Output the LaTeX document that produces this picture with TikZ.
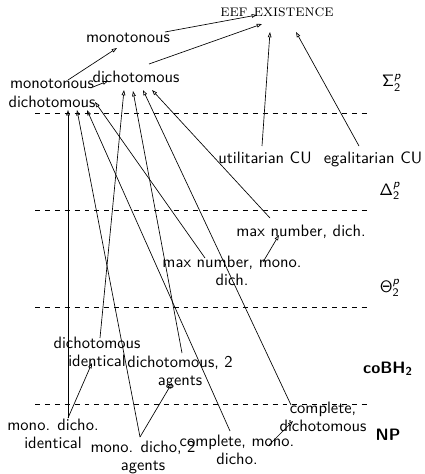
\documentclass[tikz,border=0pt]{standalone}
\usepackage{amsmath}
\usetikzlibrary{arrows.meta}
% slanted sans letters for the class superscripts
\DeclareMathAlphabet{\mathsfsl}{OT1}{cmss}{m}{sl}
% two centred lines whose baseline is the first line
\newcommand{\twoline}[2]{\begin{tabular}[t]{@{}c@{}}#1\\#2\end{tabular}}
\renewcommand{\arraystretch}{0.92}

\begin{document}
\begin{tikzpicture}[x=0.606pt,y=-0.606pt,
  lbl/.style={anchor=base,inner sep=0pt,font=\sffamily},
  cls/.style={anchor=base,inner sep=0pt,font=\sffamily},
  arr/.style={-{Triangle[open,length=3.2pt,width=2.2pt]},line width=0.4pt},
  level/.style={dashed,line width=0.4pt}]
\useasboundingbox (0,0) rectangle (424,474);

% separators between the complexity classes
\draw[level] (35,113) -- (371,113);
\draw[level] (35,210) -- (371,210);
\draw[level] (35,307) -- (371,307);
\draw[level] (35,404) -- (371,404);

% class names
\node[cls] (sigma) at (392,87) {$\mathsf{\Sigma}^{\mathsfsl{p}}_{\mathsf{2}}$};
\node[cls] (delta) at (390,195) {$\mathsf{\Delta}^{\mathsfsl{p}}_{\mathsf{2}}$};
\node[cls] (theta) at (390,292) {$\mathsf{\Theta}^{\mathsfsl{p}}_{\mathsf{2}}$};
\node[cls] (cobh) at (388,373) {\bfseries coBH\textsubscript{2}};
\node[cls] (np) at (388,440) {\bfseries NP};

% problem variants
\node[lbl] (eef) at (277,17) {\rmfamily\textsc{eef existence}};
\node[lbl] (mono) at (128,43) {monotonous};
\node[lbl] (dich) at (136,83) {dichotomous};
\node[lbl] (md) at (52,89) {\twoline{monotonous}{dichotomous}};
\node[lbl] (util) at (265,163) {utilitarian CU};
\node[lbl] (egal) at (373,163) {egalitarian CU};
\node[lbl] (mnd) at (301,236) {max number, dich.};
\node[lbl] (mnm) at (232,267) {\twoline{max number, mono.}{dich.}};
\node[lbl] (di) at (97,348) {\twoline{dichotomous}{identical}};
\node[lbl] (dtwo) at (180,367) {\twoline{dichotomous, 2}{agents}};
\node[lbl] (mdi) at (53,430) {\twoline{mono. dicho.}{identical}};
\node[lbl] (mdtwo) at (143,452) {\twoline{mono. dicho, 2}{agents}};
\node[lbl] (cmd) at (237,446) {\twoline{complete, mono.}{dicho.}};
\node[lbl] (cd) at (323,413) {\twoline{complete,}{dichotomous}};

% reductions
\draw[arr] ([shift={(37,-11)}]mono.base) -- ([shift={(-20,-2)}]eef.base);
\draw[arr] ([shift={(13,-19)}]dich.base) -- ([shift={(-15,7)}]eef.base);
\draw[arr] ([shift={(16,-9)}]md.base) -- ([shift={(-11,5)}]mono.base);
\draw[arr] ([shift={(41,-2)}]md.base) -- ([shift={(-28,-2)}]dich.base);
\draw[arr] ([shift={(-3,-17)}]util.base) -- ([shift={(-7,15)}]eef.base);
\draw[arr] ([shift={(-14,-17)}]egal.base) -- ([shift={(19,15)}]eef.base);
\draw[arr] ([shift={(3,-10)}]di.base) -- ([shift={(-12,7)}]dich.base);
\draw[arr] ([shift={(2,-14)}]dtwo.base) -- ([shift={(-3,8)}]dich.base);
\draw[arr] ([shift={(-32,-8)}]cd.base) -- ([shift={(7,7)}]dich.base);
\draw[arr] ([shift={(-31,-18)}]mnd.base) -- ([shift={(16,7)}]dich.base);
\draw[arr] ([shift={(-27,-9)}]mnm.base) -- ([shift={(43,13)}]md.base);
\draw[arr] ([shift={(15,-12)}]mdi.base) -- ([shift={(16,21)}]md.base);
\draw[arr] ([shift={(-3,-15)}]mdtwo.base) -- ([shift={(25,21)}]md.base);
\draw[arr] ([shift={(-7,-15)}]cmd.base) -- ([shift={(35,21)}]md.base);
\draw[arr] ([shift={(15,-12)}]mdi.base) -- ([shift={(-5,15)}]di.base);
\draw[arr] ([shift={(-3,-15)}]mdtwo.base) -- ([shift={(-8,16)}]dtwo.base);
\draw[arr] ([shift={(32,-1)}]cmd.base) -- ([shift={(-30,8)}]cd.base);
\draw[arr] ([shift={(31,-5)}]mnm.base) -- ([shift={(-22,-1)}]mnd.base);
\end{tikzpicture}
\end{document}
